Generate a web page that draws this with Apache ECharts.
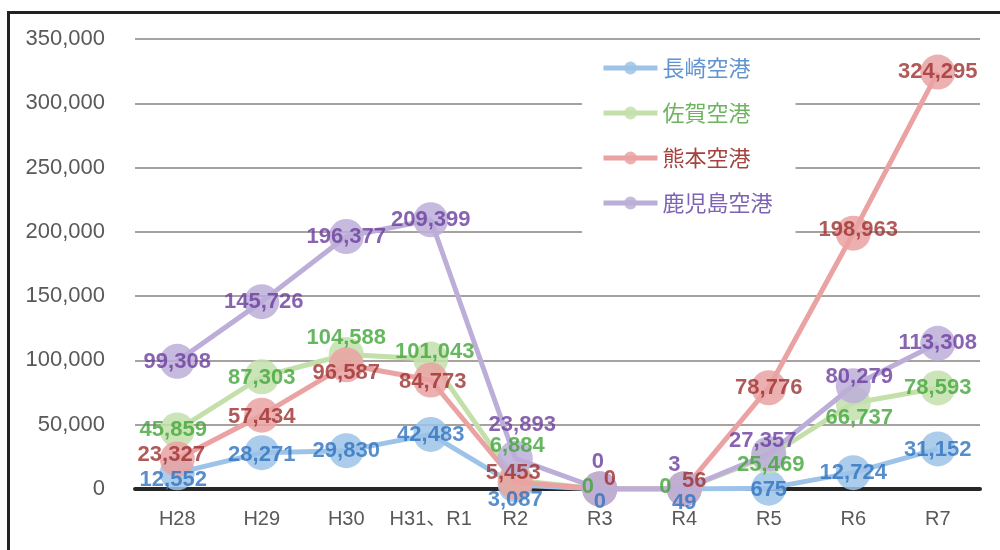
<!DOCTYPE html>
<html><head><meta charset="utf-8">
<script src="https://cdn.jsdelivr.net/npm/echarts@6/dist/echarts.min.js"></script>
<style>html,body{margin:0;padding:0;background:#fff}#c{width:1000px;height:550px}</style>
</head><body><div id="c"></div>
<script>
const categories = ['H28','H29','H30','H31、R1','R2','R3','R4','R5','R6','R7'];
const yTicks = [0, 50000, 100000, 150000, 200000, 250000, 300000, 350000];
const seriesNames = ['長崎空港','佐賀空港','熊本空港','鹿児島空港'];
const nagasaki = [12552, 28271, 29830, 42483, 3087, 0, 49, 675, 12724, 31152];
const saga = [45859, 87303, 104588, 101043, 6884, 0, 0, 25469, 66737, 78593];
const kumamoto = [23327, 57434, 96587, 84773, 5453, 0, 56, 78776, 198963, 324295];
const kagoshima = [99308, 145726, 196377, 209399, 23893, 0, 3, 27357, 80279, 113308];

const values = [nagasaki, saga, kumamoto, kagoshima];
const lineColors = ['#9dc3e8', '#c3e0ab', '#eaa2a2', '#bcaed8'];
const labelColors = ['#2e72bf', '#41a53a', '#9c3030', '#6a3c9e'];
const legendColors = ['#5f93d3', '#6db45e', '#a3423e', '#7d62b6'];
const offsets = [
  [[-4,7],[0,2],[0,0],[0,1],[0,15],[0,13],[0,14],[0,2],[0,0],[0,1]],
  [[-4,0],[0,1],[0,-17],[4,-7],[2,-34],[-12,-2],[-19,-2],[2,9],[6,15],[0,0]],
  [[-6,-4],[0,2],[0,8],[2,2],[-2,-9],[10,-10],[10,-8],[0,0],[5,-3],[0,0]],
  [[0,1],[2,0],[0,0],[0,0],[7,-33],[-2,-27],[-10,-24],[-6,-13],[6,-9],[0,0]]
];

const fmt = v => Number(v).toLocaleString('en-US');

const lineSeries = seriesNames.map((name, si) => ({
  name, type: 'line',
  symbol: 'circle', symbolSize: 35,
  lineStyle: { color: lineColors[si], width: 5 },
  itemStyle: { color: lineColors[si], opacity: 0.85 },
  label: { show: false },
  emphasis: { disabled: true },
  z: 2 + si,
  data: values[si]
}));

const labelSeries = seriesNames.map((name, si) => ({
  name, type: 'scatter',
  symbol: 'circle', symbolSize: 1,
  itemStyle: { color: 'rgba(0,0,0,0)' },
  emphasis: { disabled: true },
  silent: true,
  z: 20 + si,
  data: values[si].map((v, i) => ({
    value: v,
    label: {
      show: true, position: 'inside', offset: offsets[si][i],
      formatter: p => fmt(p.value),
      color: labelColors[si], fontSize: 22, fontWeight: 'bold',
      fontFamily: 'Liberation Sans, Arial, sans-serif'
    }
  }))
}));

const chart = echarts.init(document.getElementById('c'), null, { renderer: 'canvas' });
chart.setOption({
  animation: false,
  backgroundColor: '#fff',
  grid: { left: 135, right: 20, top: 39, bottom: 61 },
  xAxis: {
    type: 'category', data: categories, boundaryGap: true,
    axisLine: { show: true, lineStyle: { color: '#262626', width: 4 } },
    axisTick: { show: false },
    axisLabel: { interval: 0, color: '#595959', fontSize: 20, margin: 20, fontFamily: 'Liberation Sans, Arial, "Noto Sans CJK JP", sans-serif' },
    z: 1
  },
  yAxis: {
    type: 'value', min: yTicks[0], max: yTicks[yTicks.length - 1], interval: yTicks[1] - yTicks[0],
    axisLine: { show: false }, axisTick: { show: false },
    splitLine: { lineStyle: { color: '#a8a29f', width: 2 } },
    axisLabel: { color: '#595959', fontSize: 22, margin: 30, fontFamily: 'Liberation Sans, Arial, sans-serif',
      formatter: v => fmt(v) }
  },
  legend: {
    orient: 'vertical', left: 582, top: 45,
    padding: [12, 23, 24, 19],
    backgroundColor: '#ffffff',
    itemWidth: 54, itemHeight: 16, itemGap: 23,
    lineStyle: { width: 5 },
    data: seriesNames.map((n, i) => ({ name: n, textStyle: { color: legendColors[i] } })),
    textStyle: { fontSize: 22, fontFamily: '"Noto Sans CJK JP", sans-serif' },
    z: 10
  },
  graphic: [{
    type: 'rect', shape: { x: 8.5, y: 12.5, width: 1000, height: 600 },
    style: { fill: 'none', stroke: '#222', lineWidth: 3 }, silent: true, z: 100
  }],
  series: lineSeries.concat(labelSeries)
});
</script></body></html>
